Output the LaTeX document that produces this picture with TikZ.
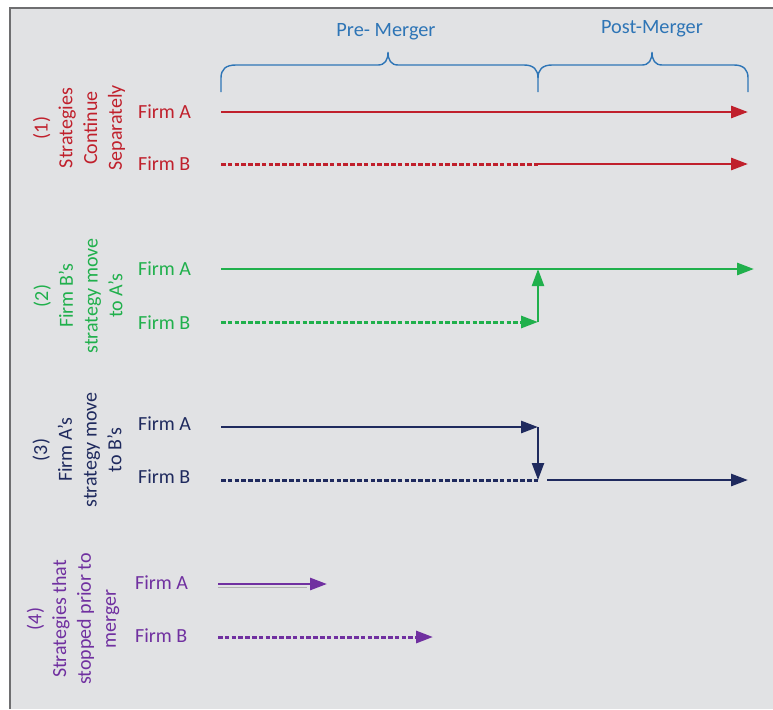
\documentclass[tikz,border=0pt]{standalone}
\usepackage{fontspec}
\setmainfont{Carlito}
\usetikzlibrary{arrows.meta}
\definecolor{bgc}{RGB}{225,226,228}
\definecolor{framec}{RGB}{110,110,112}
\definecolor{bluec}{RGB}{46,117,182}
\definecolor{redc}{RGB}{192,32,44}
\definecolor{greenc}{RGB}{32,176,76}
\definecolor{navyc}{RGB}{31,42,94}
\definecolor{purplec}{RGB}{112,48,160}
\tikzset{
  lbl/.style={font=\fontsize{20}{25}\selectfont, anchor=west, inner sep=0pt},
  side/.style={font=\fontsize{20}{24.8}\selectfont, rotate=90, align=center, inner sep=0pt},
  hdr/.style={font=\fontsize{20.3}{24}\selectfont, text=bluec, inner sep=0pt},
  arr/.style={line width=2.8pt, -{Triangle[length=17pt,width=12pt]}},
  dotln/.style={line width=3pt, dash pattern=on 4.5pt off 2.3pt},
  brace/.style={draw=bluec, line width=1.4pt}
}
\begin{document}
\begin{tikzpicture}[x=1pt,y=-1pt]
\useasboundingbox (0,0) rectangle (773,709);
\fill[white] (0,0) rectangle (773,709);
\fill[bgc] (10,8) rectangle (773,709);
\draw[framec, line width=2.5pt] (10,709) -- (10,8) -- (773,8);

% headers and braces
\node[hdr] (pre) at (386,32) {Pre- Merger};
\node[hdr] (post) at (652,29) {Post-Merger};
\draw[brace] (221,92) -- (221,78) .. controls (221,69) and (226,65) .. (236,65) -- (378,65)
  .. controls (385,65) and (388,60) .. (388,52) .. controls (388,60) and (391,65) .. (398,65)
  -- (524,65) .. controls (534,65) and (538,70) .. (538,78) -- (538,92);
\draw[brace] (538,78) .. controls (538,70) and (542,65) .. (552,65) -- (642,65)
  .. controls (649,65) and (652,60) .. (652,52) .. controls (652,60) and (655,65) .. (662,65)
  -- (734,65) .. controls (744,65) and (748,70) .. (748,78) -- (748,92);

% section 1
\node[side, text=redc] (s1) at (79,128) {(1)\\Strategies\\Continue\\Separately};
\node[lbl, text=redc] (fa1) at (138,112) {Firm A};
\node[lbl, text=redc] (fb1) at (138,164) {Firm B};
\coordinate (a1s) at (221,112); \coordinate (a1e) at (748,112);
\coordinate (b1s) at (221,164); \coordinate (b1m) at (538,164); \coordinate (b1e) at (748,164);
\draw[arr, redc] (a1s) -- (a1e);
\draw[dotln, redc] (b1s) -- (b1m);
\draw[arr, redc] (b1m) -- (b1e);

% section 2
\node[side, text=greenc] (s2) at (78,296) {(2)\\Firm B’s\\strategy move\\to A’s};
\node[lbl, text=greenc] (fa2) at (138,269) {Firm A};
\node[lbl, text=greenc] (fb2) at (138,323) {Firm B};
\coordinate (a2s) at (221,269); \coordinate (a2m) at (538,269); \coordinate (a2e) at (754,269);
\coordinate (b2s) at (221,322); \coordinate (b2e) at (538,322);
\draw[arr, greenc] (a2s) -- (a2e);
\draw[dotln, greenc, -{Triangle[length=17pt,width=12pt]}] (b2s) -- (b2e);
\draw[arr, greenc, line width=2.3pt] (b2e) -- (a2m);

% section 3
\node[side, text=navyc] (s3) at (77,450) {(3)\\Firm A’s\\strategy move\\to B’s};
\node[lbl, text=navyc] (fa3) at (138,424) {Firm A};
\node[lbl, text=navyc] (fb3) at (138,477) {Firm B};
\coordinate (a3s) at (221,427); \coordinate (a3e) at (538,427);
\coordinate (b3s) at (221,480); \coordinate (b3m) at (539,480);
\coordinate (b3t) at (538,480); \coordinate (b3r) at (547,480); \coordinate (b3e) at (748,480);
\draw[arr, navyc] (a3s) -- (a3e);
\draw[arr, navyc, line width=2.3pt] (a3e) -- (b3t);
\draw[dotln, navyc] (b3s) -- (b3m);
\draw[arr, navyc] (b3r) -- (b3e);

% section 4
\node[side, text=purplec] (s4) at (73,619) {(4)\\Strategies that\\stopped prior to\\merger};
\node[lbl, text=purplec] (fa4) at (135,583) {Firm A};
\node[lbl, text=purplec] (fb4) at (135,636) {Firm B};
\coordinate (a4s) at (218,584); \coordinate (a4e) at (327,584);
\coordinate (b4s) at (218,637); \coordinate (b4e) at (433,637);
\draw[gray!60, line width=1pt] ([yshift=-3pt]a4s) -- ([yshift=-3pt,xshift=-20pt]a4e);
\draw[arr, purplec] (a4s) -- (a4e);
\draw[dotln, purplec, -{Triangle[length=17pt,width=12pt]}] (b4s) -- (b4e);
\end{tikzpicture}
\end{document}
